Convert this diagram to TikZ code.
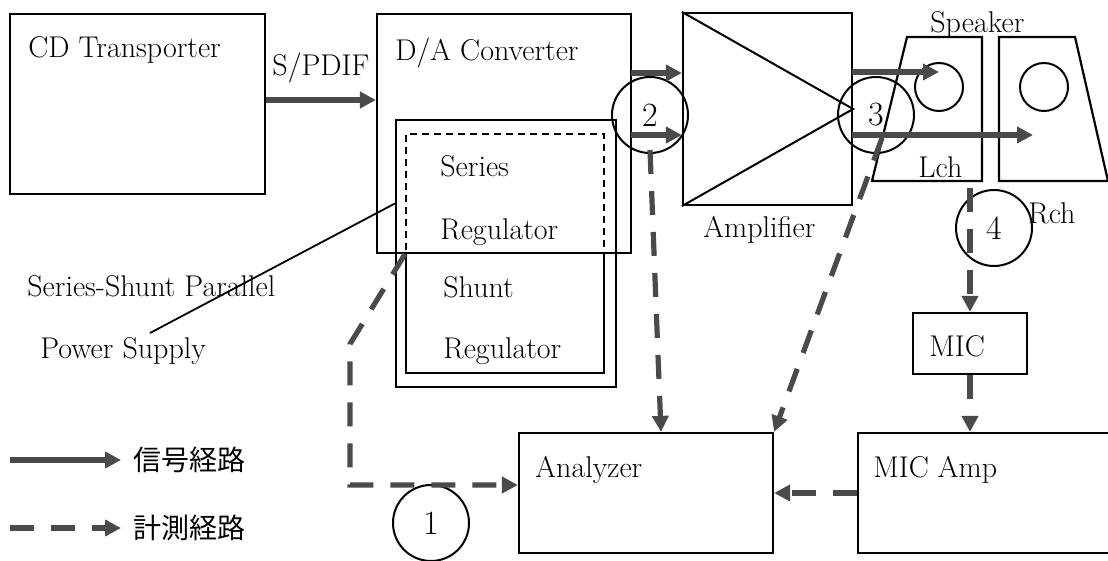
\documentclass[tikz,border=0pt]{standalone}
\usepackage{fontspec}
\newfontfamily\jpfont{Noto Sans CJK JP}
\usetikzlibrary{arrows.meta,positioning}
\definecolor{inkgray}{HTML}{4A4A4A}

\begin{document}
\begin{tikzpicture}[
  x=0.5pt,y=-0.5pt,
  box/.style={draw,line width=1.1pt,inner sep=0pt},
  lbl/.style={inner sep=0pt,anchor=base west,font=\fontsize{15}{18}\selectfont},
  jplbl/.style={inner sep=0pt,anchor=west,font=\jpfont\fontsize{14}{16}\selectfont},
  num/.style={circle,draw,line width=1pt,minimum size=38pt,inner sep=0pt,font=\fontsize{17}{20}\selectfont},
  cone/.style={circle,draw,line width=1pt,minimum size=24pt,inner sep=0pt},
  sig/.style={draw=inkgray,line width=2.6pt,-{Triangle[length=8pt,width=8pt]}},
  meas/.style={sig,dash pattern=on 12pt off 8.5pt},
]
\clip (0,0) rectangle (1108,561);
% blocks
\node[box,minimum width=127.5pt,minimum height=90pt] (cd) at (137.5,104) {};
\node[box,minimum width=127pt,minimum height=119.5pt] (dac) at (504,133.5) {};
\node[box,minimum width=110pt,minimum height=133.5pt] (psu) at (506,253.5) {};
\node[box,line width=0.9pt,dash pattern=on 3.5pt off 2.5pt,minimum width=99pt,minimum height=59.5pt] (ser) at (505,193.5) {};
\node[box,minimum width=99pt,minimum height=60pt] (shu) at (505,313) {};
\node[box,minimum width=84.5pt,minimum height=96pt] (amp) at (767.5,109) {};
\node[box,minimum width=57pt,minimum height=30.5pt] (mic) at (970,343.5) {};
\node[box,minimum width=127pt,minimum height=60pt] (ana) at (646,493) {};
\node[box,minimum width=140pt,minimum height=60pt,anchor=west] (micamp) at (857,493) {};
\draw[line width=1pt] (amp.north west) -- (amp.east) -- (amp.south west);
% speakers
\draw[line width=1.1pt] (907,37) -- (982,37) -- (982,181) -- (872,181) -- cycle;
\draw[line width=1.1pt] (999,37) -- (1075,37) -- (1108,181) -- (999,181) -- cycle;
\node[cone] (coneL) at (939,87) {};
\node[cone] (coneR) at (1044,87) {};
% labels
\node[lbl] (cdlbl) at (28,58) {CD Transporter};
\node[lbl] (daclbl) at (395,61) {D/A Converter};
\node[lbl] (serlbl) at (440,177) {Series};
\node[lbl] (serlbl2) at (440,240) {Regulator};
\node[lbl] (shulbl) at (443,298) {Shunt};
\node[lbl] (shulbl2) at (443,358) {Regulator};
\node[lbl] (amplbl) at (703,238) {Amplifier};
\node[lbl] (spklbl) at (930,33) {Speaker};
\node[lbl] (lchlbl) at (918,178) {Lch};
\node[lbl] (rchlbl) at (1028,224) {Rch};
\node[lbl] (miclbl) at (929,357) {MIC};
\node[lbl] (micamplbl) at (873,477) {MIC Amp};
\node[lbl] (analbl) at (535,477) {Analyzer};
\node[lbl] (ssplbl) at (27,297) {Series-Shunt Parallel};
\node[lbl] (pwrlbl) at (40,358) {Power Supply};
% test points
\node[num] (m1) at (431,523) {1};
\node[num] (m2) at (650,115) {2};
\node[num] (m3) at (876,115) {3};
\node[num] (m4) at (994,228) {4};
% signal path
\draw[sig] (cd.east |- 0,100) -- node[lbl,anchor=base,above=7pt] (spdif) {S/PDIF} (dac.west |- 0,100);
\coordinate (a1) at (631,73);
\coordinate (a2) at (631,135);
\draw[sig] (a1) -- (a1 -| amp.west);
\draw[sig] (a2) -- (a2 -| amp.west);
\coordinate (b1) at (852,72);
\coordinate (b2) at (852,135);
\coordinate (b2e) at (1033,135);
\draw[sig] (b1) -- (b1 -| coneL);
\draw[sig] (b2) -- (b2e);
% measurement path
\coordinate (k1) at (350,344);
\coordinate (k2) at (350,485);
\draw[meas] (ser.south west) -- (k1) -- (k2) -- (k2 -| ana.west);
\coordinate (p2) at (650,150);
\draw[meas] (p2) -- ([xshift=7.5pt]ana.north);
\coordinate (p3) at (882,138);
\draw[meas] (p3) -- (ana.north east);
\coordinate (spkLb) at (970,188);
\draw[meas] (spkLb) -- (mic.north);
\draw[meas] (mic.south) -- (mic.south |- micamp.north);
\draw[meas] (micamp.west) -- (ana.east);
% pointer
\coordinate (ptr) at (150,333);
\draw[line width=0.9pt] (ptr) -- ([yshift=25pt]psu.west);
% legend
\node[jplbl] (lgsig) at (133,460) {信号経路};
\node[jplbl] (lgmeas) at (133,528) {計測経路};
\coordinate (lg1) at (10,460);
\coordinate (lg2) at (10,528);
\draw[sig,shorten >=6pt] (lg1) -- (lgsig.west);
\draw[meas,shorten >=6pt] (lg2) -- (lgmeas.west);
\end{tikzpicture}
\end{document}
